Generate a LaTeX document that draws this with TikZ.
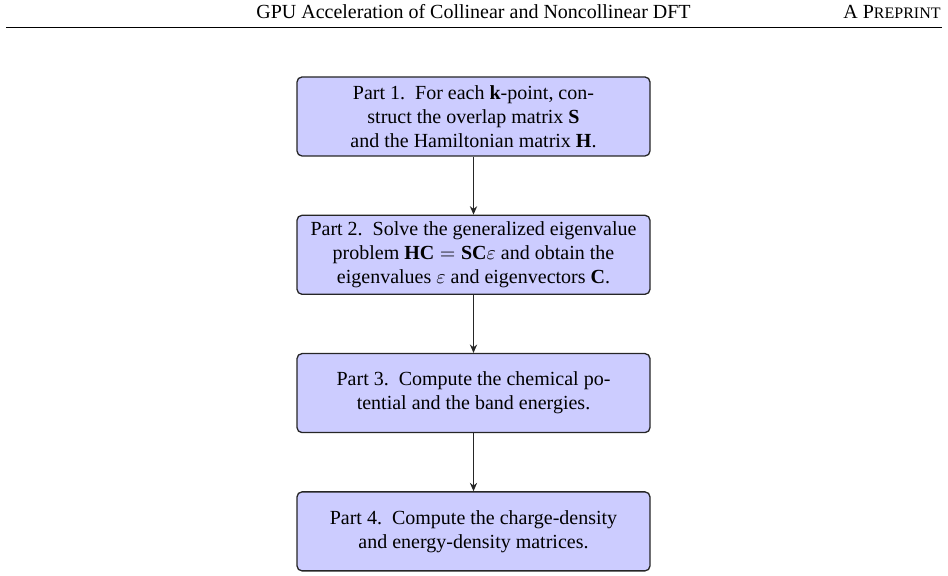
\documentclass[tikz,border=0pt]{standalone}
\usepackage{fontspec}
\setmainfont{Liberation Serif}
\usetikzlibrary{positioning,arrows.meta}

\begin{document}
\begin{tikzpicture}[x=0.5pt, y=0.5pt,
    part/.style={draw=black!85, line width=0.65pt, fill=blue!20, rounded corners=2.5pt,
      minimum width=176.5pt, minimum height=39.5pt, align=center, inner sep=3pt},
    flow/.style={draw=black!85, line width=0.85pt, -{Stealth[length=4.2pt, width=3.6pt]}}]
  \useasboundingbox (0,0) rectangle (948,576);
  % running head with its rule
  \coordinate (ruleL) at (6,548.5);
  \coordinate (ruleR) at (942,548.5);
  \draw[line width=0.5pt] (ruleL) -- (ruleR);
  \node[anchor=base] (title) at (473.5,557) {GPU Acceleration of Collinear and Noncollinear DFT};
  \node[anchor=base east, inner sep=0pt] (pre) at (941,557) {A P{\fontsize{8}{9}\selectfont REPRINT}};
  % the four parts, one below the other
  \node[part] (p1) at (473.5,459.5)
    {Part 1.\ \ For each \textbf{k}-point, con-\\ struct the overlap matrix \textbf{S}\\ and the Hamiltonian matrix \textbf{H}.};
  \node[part, below=29pt of p1] (p2)
    {Part 2.\ \ Solve the generalized eigenvalue\\ problem $\textbf{HC} = \textbf{SC}\varepsilon$ and obtain the\\ eigenvalues $\varepsilon$ and eigenvectors \textbf{C}.};
  \node[part, below=29pt of p2] (p3)
    {Part 3.\ \ Compute the chemical po-\\ tential and the band energies.};
  \node[part, below=29pt of p3] (p4)
    {Part 4.\ \ Compute the charge-density\\ and energy-density matrices.};
  \foreach \a/\b in {p1/p2, p2/p3, p3/p4}
    \draw[flow] (\a) -- (\b);
\end{tikzpicture}
\end{document}
